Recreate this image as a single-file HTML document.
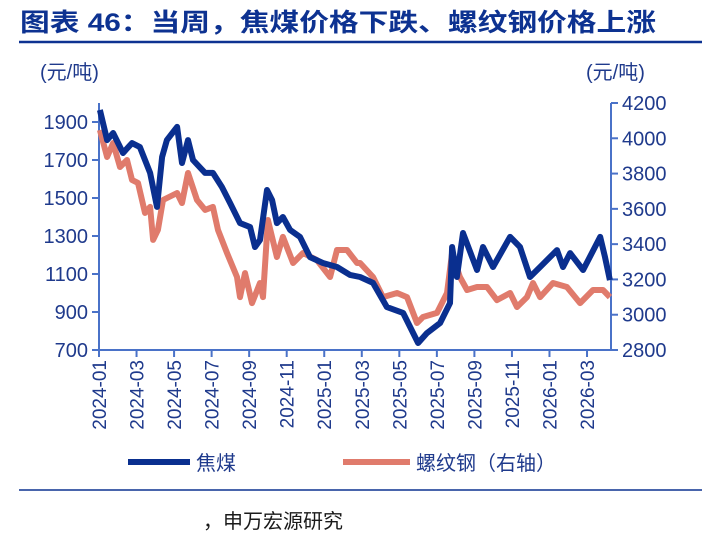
<!DOCTYPE html>
<html><head><meta charset="utf-8"><style>
body{margin:0;width:719px;height:538px;background:#fff;overflow:hidden;font-family:"Liberation Sans","Noto Sans CJK SC",sans-serif;color:#1f3a8c}
</style></head><body>
<svg id="c" width="719" height="538" xmlns="http://www.w3.org/2000/svg">
<text x="20" y="31" font-size="25" font-weight="bold" fill="#0d3291" textLength="636" lengthAdjust="spacingAndGlyphs" font-family="Liberation Sans,Noto Sans CJK SC,sans-serif">图表 46：当周，焦煤价格下跌、螺纹钢价格上涨</text>
<line x1="19" y1="42" x2="702" y2="42" stroke="#0d3291" stroke-width="2.5"/>
<text x="40" y="79" font-size="20" fill="#1f3a8c">(元/吨)</text>
<text x="586" y="79" font-size="20" fill="#1f3a8c">(元/吨)</text>
<g id="axes"></g><g id="series"></g>
<g>
<line x1="128" y1="462" x2="190" y2="462" stroke="#0a2f8f" stroke-width="6"/>
<text x="196" y="470" font-size="20" fill="#1f3a8c">焦煤</text>
<line x1="343" y1="462" x2="410" y2="462" stroke="#e07b6c" stroke-width="6"/>
<text x="416" y="470" font-size="20" fill="#1f3a8c">螺纹钢（右轴）</text>
</g>
<line x1="19" y1="490" x2="702" y2="490" stroke="#0d3291" stroke-width="1.5"/>
<text x="203" y="528" font-size="20" fill="#1a1a1a">，申万宏源研究</text>
</svg>
<script>
const xLabels=["2024-01","2024-03","2024-05","2024-07","2024-09","2024-11","2025-01","2025-03","2025-05","2025-07","2025-09","2025-11","2026-01","2026-03"];
const leftTicks=[700,900,1100,1300,1500,1700,1900];
const rightTicks=[2800,3000,3200,3400,3600,3800,4000,4200];
const cokeMonths=[0.05,0.43,0.75,1.28,1.76,2.18,2.72,3.09,3.36,3.62,4.16,4.42,4.74,5.01,5.65,6.07,6.55,6.98,7.51,8.05,8.31,8.58,8.95,9.22,9.48,9.8,10.18,10.71,11.24,11.93,12.68,13.37,13.91,14.6,15.34,16.2,17.0,17.47,18.17,18.7,18.81,19.07,19.39,20.14,20.46,20.99,21.9,22.43,22.96,23.5,24.4,24.72,25.1,25.79,26.7,26.96,27.22];
const cokeValues=[1963,1805,1842,1737,1789,1768,1632,1453,1716,1805,1874,1684,1805,1700,1632,1632,1558,1474,1368,1347,1242,1279,1542,1489,1368,1400,1332,1295,1189,1158,1137,1095,1084,1053,926,895,737,789,842,947,1242,1084,1316,1121,1242,1137,1295,1242,1084,1137,1226,1137,1210,1121,1295,1189,1068];
const rebarMonths=[0.05,0.43,0.75,1.12,1.49,1.76,2.08,2.45,2.72,2.88,3.14,3.41,4.16,4.42,4.74,5.22,5.65,6.07,6.34,6.82,7.35,7.51,7.78,8.15,8.58,8.74,9.0,9.48,9.8,10.34,10.87,11.61,12.31,12.68,13.21,13.75,13.91,14.6,15.13,15.88,16.41,16.94,17.26,18.01,18.54,18.81,19.23,19.61,20.14,20.67,21.2,21.9,22.27,22.8,23.12,23.5,24.19,24.93,25.63,26.32,26.85,27.22];
const rebarValues=[4047,3894,3973,3837,3877,3764,3747,3577,3611,3424,3480,3650,3690,3633,3803,3650,3594,3611,3480,3350,3214,3100,3236,3066,3180,3100,3537,3327,3441,3293,3350,3310,3214,3367,3367,3293,3293,3214,3100,3123,3100,2953,2987,3010,3123,3350,3214,3140,3157,3157,3083,3123,3044,3100,3180,3100,3180,3157,3066,3140,3140,3100];
const NS="http://www.w3.org/2000/svg";
const X0=99,X1=611,YT=103,YB=350,PPM=18.77;
const xS=m=>X0+m*PPM;
const yL=v=>YB-(v-700)/(1900-700)*(YB-122);
const yR=v=>YB-(v-2800)/(4200-2800)*(YB-YT);
const ax=document.getElementById('axes'),sr=document.getElementById('series');
function mk(t,a,p){const e=document.createElementNS(NS,t);for(const k in a)e.setAttribute(k,a[k]);p.appendChild(e);return e;}
const AC="#4a72c8";
let e=mk('line',{x1:X0,y1:YT,x2:X0,y2:YB,stroke:AC,'stroke-width':2},ax);


e=mk('line',{x1:X1,y1:YT,x2:X1,y2:YB,stroke:AC,'stroke-width':2},ax);


e=mk('line',{x1:X0,y1:YB,x2:X1,y2:YB,stroke:AC,'stroke-width':2},ax);


leftTicks.forEach(v=>{const y=yL(v);
mk('line',{x1:X0-7,y1:y,x2:X0,y2:y,stroke:AC,'stroke-width':2},ax);
const t=mk('text',{x:X0-11,y:y+7,'text-anchor':'end','font-size':20,fill:'#1f3a8c'},ax);t.textContent=v;

});
rightTicks.forEach(v=>{const y=yR(v);
mk('line',{x1:X1,y1:y,x2:X1+7,y2:y,stroke:AC,'stroke-width':2},ax);
const t=mk('text',{x:X1+11,y:y+7,'font-size':20,fill:'#1f3a8c'},ax);t.textContent=v;

});
xLabels.forEach((l,i)=>{const x=xS(i*2);
mk('line',{x1:x,y1:YB,x2:x,y2:YB+7,stroke:AC,'stroke-width':2},ax);
const t=mk('text',{x:0,y:0,'text-anchor':'end','font-size':19,fill:'#1f3a8c',transform:`translate(${x+7},${YB+10}) rotate(-90)`},ax);t.textContent=l;

});
function path(ms,vs,ys){return ms.map((m,i)=>(i?'L':'M')+xS(m).toFixed(1)+','+ys(vs[i]).toFixed(1)).join('');}
let p=mk('path',{d:path(rebarMonths,rebarValues,yR),fill:'none',stroke:'#e07b6c','stroke-width':6,'stroke-linejoin':'round'},sr);


p=mk('path',{d:path(cokeMonths,cokeValues,yL),fill:'none',stroke:'#0a2f8f','stroke-width':6,'stroke-linejoin':'round'},sr);


</script>
</body></html>
